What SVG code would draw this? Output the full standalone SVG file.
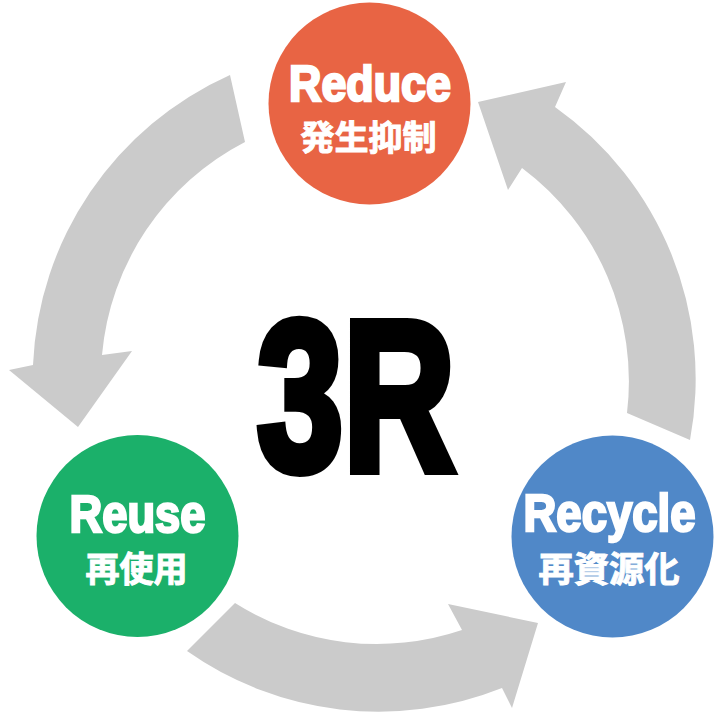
<svg xmlns="http://www.w3.org/2000/svg" width="720" height="720" viewBox="0 0 720 720">
<style>
.arrow{fill:#cbcbcb;stroke:none}
.lat{font-family:"Liberation Sans Narrow","Liberation Sans",Arial,sans-serif;font-weight:bold;fill:#fff;stroke:#fff;stroke-width:2.5;stroke-linejoin:miter;text-anchor:middle}
.jp{font-family:"Noto Sans CJK JP","Noto Sans CJK SC",sans-serif;font-weight:bold;fill:#fff;stroke:#fff;stroke-width:1;text-anchor:middle}
.big{font-family:"Liberation Sans Narrow","Liberation Sans",Arial,sans-serif;font-weight:bold;fill:#000;stroke:#000;stroke-width:10;stroke-linejoin:miter;text-anchor:middle}
</style>
<rect width="720" height="720" fill="#fff"/>
<g id="connectors">
<path class="arrow" d="M230,75 A333,333 0 0 0 33,365 L9,370 L78,427 L132,351 L102,355 A266,266 0 0 1 245,142 Z"/>
<path class="arrow" d="M187,651 A333,333 0 0 0 502,688 L512,708 L538,623 L448,604 L462,630 A266,266 0 0 1 235,603 Z"/>
<path class="arrow" d="M690,440 A333,333 0 0 0 555,107 L566,82 L478,102 L508,190 L522,168 A266,266 0 0 1 627,413 Z"/>
</g>
<g id="title">
<text class="big" x="356" y="470" font-size="214" textLength="198" lengthAdjust="spacingAndGlyphs">3R</text>
</g>
<g id="reduce">
<circle cx="369.5" cy="103.5" r="101" fill="#e86444"/>
<text class="lat" x="370" y="100.5" font-size="50" textLength="162" lengthAdjust="spacingAndGlyphs">Reduce</text>
<text class="jp" x="368.5" y="150" font-size="34" textLength="136" lengthAdjust="spacingAndGlyphs">発生抑制</text>
</g>
<g id="reuse">
<circle cx="137.5" cy="536" r="101" fill="#1bb06a"/>
<text class="lat" x="137.5" y="531.5" font-size="51" textLength="136" lengthAdjust="spacingAndGlyphs">Reuse</text>
<text class="jp" x="136.5" y="582" font-size="35" textLength="102" lengthAdjust="spacingAndGlyphs">再使用</text>
</g>
<g id="recycle">
<circle cx="612.5" cy="536.5" r="101" fill="#5088c8"/>
<text class="lat" x="609.5" y="530.5" font-size="51" textLength="172" lengthAdjust="spacingAndGlyphs">Recycle</text>
<text class="jp" x="609" y="582" font-size="35" textLength="141" lengthAdjust="spacingAndGlyphs">再資源化</text>
</g>
</svg>
